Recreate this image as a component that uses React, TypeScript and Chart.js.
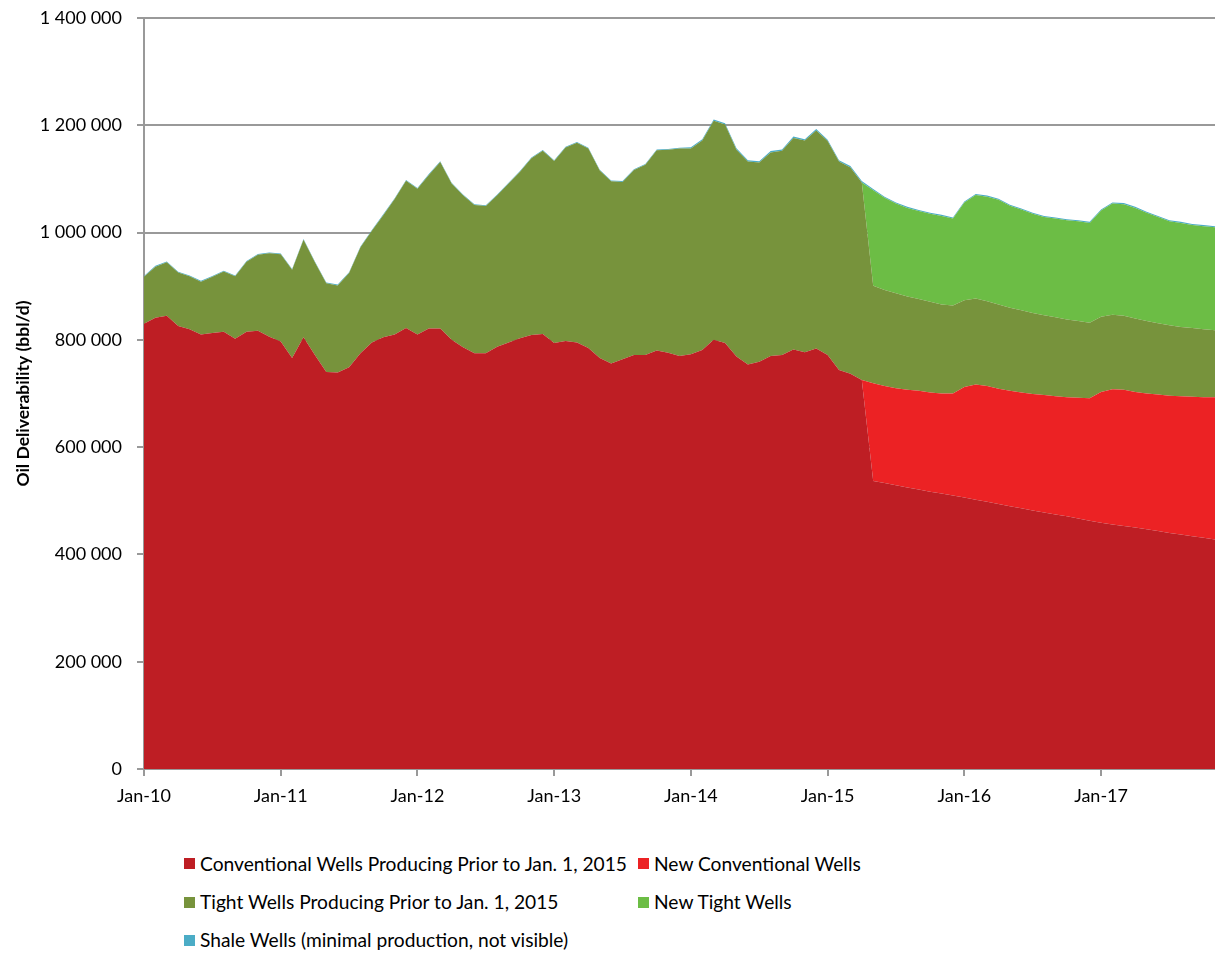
import React, { useEffect, useRef } from "react";
import { Chart, registerables } from "chart.js";

Chart.register(...registerables);

// ---- categories ----
const monthNames = ["Jan", "Feb", "Mar", "Apr", "May", "Jun", "Jul", "Aug", "Sep", "Oct", "Nov", "Dec"];
const yearSuffixes = ["10", "11", "12", "13", "14", "15", "16", "17"];
const categories: string[] = [];
for (const y of yearSuffixes) for (const m of monthNames) categories.push(`${m}-${y}`);
categories.splice(95);

const tickLabels = ["Jan-10", "Jan-11", "Jan-12", "Jan-13", "Jan-14", "Jan-15", "Jan-16", "Jan-17"];

// ---- series (bbl/d) ----
const conventionalPrior = [
  830000, 841000, 845000, 826000, 820000, 810000, 813000, 815000, 802000, 815000, 817000, 806000,
  797000, 766000, 805000, 772000, 740000, 739000, 749000, 775000, 795000, 805000, 810000, 822000,
  810000, 821000, 821000, 800000, 786000, 775000, 775000, 787000, 795000, 803000, 809000, 811000,
  794000, 798000, 795000, 785000, 766000, 756000, 764000, 772000, 772000, 780000, 776000, 770000,
  773000, 781000, 800000, 794000, 769000, 754000, 759000, 770000, 772000, 782000, 777000, 784000,
  772000, 744000, 737000, 725000, 537000, 533000, 529000, 525000, 521000, 517000, 513500, 510000,
  506000, 502000, 498000, 494000, 490000, 486000, 482000, 478000, 474500, 471000, 467000, 463000,
  459000, 456000, 453000, 450000, 447000, 443500, 440000, 437000, 434000, 431000, 428000,
];

const newConventional = [
  0, 0, 0, 0, 0, 0, 0, 0, 0, 0, 0, 0,
  0, 0, 0, 0, 0, 0, 0, 0, 0, 0, 0, 0,
  0, 0, 0, 0, 0, 0, 0, 0, 0, 0, 0, 0,
  0, 0, 0, 0, 0, 0, 0, 0, 0, 0, 0, 0,
  0, 0, 0, 0, 0, 0, 0, 0, 0, 0, 0, 0,
  0, 0, 0, 0, 182000, 181000, 181000, 182000, 184000, 185000, 186500, 190000,
  206000, 215000, 216000, 215000, 215000, 216000, 217000, 219000, 220500, 222000, 225000, 228000,
  244000, 252000, 254000, 253000, 253000, 254500, 256000, 258000, 260000, 262000, 265000,
];

const tightPrior = [
  87500, 95500, 99500, 99500, 98500, 98500, 104500, 112500, 116500, 130500, 141500, 155500,
  162500, 164500, 181500, 172500, 165500, 162500, 175500, 197500, 208500, 227500, 252500, 274500,
  271500, 286500, 310500, 291500, 283500, 276500, 274500, 282500, 296500, 310500, 329500, 341500,
  339500, 360500, 372500, 371500, 349500, 339500, 330500, 344500, 354500, 373500, 378500, 386500,
  383500, 390500, 408500, 407500, 385500, 378500, 371500, 379500, 380500, 394500, 394500, 406500,
  398500, 388500, 384500, 368500, 182000, 179000, 177000, 174000, 171000, 169000, 166000, 164000,
  162000, 160000, 158000, 157000, 155000, 153000, 151000, 149000, 147000, 145000, 143000, 141000,
  140000, 139000, 138000, 137000, 135000, 133000, 131000, 129000, 128000, 127000, 125000,
];

const newTight = [
  0, 0, 0, 0, 0, 0, 0, 0, 0, 0, 0, 0,
  0, 0, 0, 0, 0, 0, 0, 0, 0, 0, 0, 0,
  0, 0, 0, 0, 0, 0, 0, 0, 0, 0, 0, 0,
  0, 0, 0, 0, 0, 0, 0, 0, 0, 0, 0, 0,
  0, 0, 0, 0, 0, 0, 0, 0, 0, 0, 0, 0,
  0, 0, 0, 0, 178000, 172000, 167000, 165000, 164000, 164000, 165000, 162000,
  182000, 193000, 195000, 195000, 190000, 188000, 185000, 183000, 184000, 185000, 186000, 186000,
  198000, 207000, 208000, 206000, 202000, 198000, 194000, 194000, 192000, 192000, 192000,
];

const shale = [
  1500, 1500, 1500, 1500, 1500, 1500, 1500, 1500, 1500, 1500, 1500, 1500,
  1500, 1500, 1500, 1500, 1500, 1500, 1500, 1500, 1500, 1500, 1500, 1500,
  1500, 1500, 1500, 1500, 1500, 1500, 1500, 1500, 1500, 1500, 1500, 1500,
  1500, 1500, 1500, 1500, 1500, 1500, 1500, 1500, 1500, 1500, 1500, 1500,
  2500, 2500, 2500, 2500, 2500, 2500, 2500, 2500, 2500, 2500, 2500, 2500,
  2500, 2500, 2500, 2500, 2000, 2000, 2000, 2000, 2000, 2000, 2000, 2000,
  2000, 2000, 2000, 2000, 2000, 2000, 2000, 2000, 2000, 2000, 2000, 2000,
  2000, 2000, 2000, 2000, 2000, 2000, 2000, 2000, 2000, 2000, 2000,
];

const seriesNames = [
  "Conventional Wells Producing Prior to Jan. 1, 2015",
  "New Conventional Wells",
  "Tight Wells Producing Prior to Jan. 1, 2015",
  "New Tight Wells",
  "Shale Wells (minimal production, not visible)",
];
const seriesColors = ["#BE1E24", "#EC2224", "#77933C", "#6CBD45", "#4BACC6"];

const FONT = "Lato, 'Open Sans', sans-serif";
const GRID = "#999999";

function fmt(v: number): string {
  return String(v).replace(/\B(?=(\d{3})+(?!\d))/g, " ");
}

export default function App() {
  const ref = useRef<HTMLCanvasElement | null>(null);

  useEffect(() => {
    if (!ref.current) return;
    const data = [conventionalPrior, newConventional, tightPrior, newTight, shale];
    const chart = new Chart(ref.current, {
      type: "line",
      data: {
        labels: categories,
        datasets: data.map((d, i) => ({
          label: seriesNames[i],
          data: d,
          backgroundColor: seriesColors[i],
          borderColor: "rgba(0,0,0,0)",
          borderWidth: 0,
          pointRadius: 0,
          pointHoverRadius: 0,
          tension: 0,
          fill: i === 0 ? "origin" : "-1",
        })),
      },
      options: {
        responsive: false,
        animation: false,
        events: [],
        layout: { padding: { top: 18, left: 0, right: 0, bottom: 0 } },
        plugins: {
          legend: { display: false },
          tooltip: { enabled: false },
        },
        scales: {
          x: {
            z: 1,
            ticks: {
              autoSkip: false,
              maxRotation: 0,
              minRotation: 0,
              padding: 0,
              color: "#000",
              font: { family: FONT, size: 18, lineHeight: "41px" },
              callback: (_v: any, i: number) => (tickLabels.includes(categories[i]) ? categories[i] : ""),
            },
            grid: {
              drawOnChartArea: false,
              tickLength: 7,
              lineWidth: 2,
              tickColor: (ctx: any) =>
                tickLabels.includes(categories[ctx.index]) ? GRID : "rgba(0,0,0,0)",
            },
            border: { color: GRID, width: 2 },
            afterFit: (s: any) => {
              s.height = 61;
            },
          },
          y: {
            stacked: true,
            min: 0,
            max: 1400000,
            ticks: {
              stepSize: 200000,
              padding: 15,
              color: "#000",
              font: { family: FONT, size: 18, lineHeight: 0.2 },
              callback: (v: any) => fmt(Number(v)),
            },
            grid: { color: GRID, lineWidth: 2, tickLength: 7, tickColor: GRID },
            border: { color: GRID, width: 2 },
            title: {
              display: true,
              text: "Oil Deliverability (bbl/d)",
              color: "#000",
              font: { family: FONT, size: 17.5, weight: "bold" },
              padding: { top: 12.5, bottom: 0 },
            },
            afterFit: (s: any) => {
              s.width = 144;
            },
          },
        },
      },
    });
    return () => chart.destroy();
  }, []);

  const legendRows = [
    [0, 1],
    [2, 3],
    [4],
  ];
  const rowCenters = [863.5, 902, 940];
  const colX = [184, 638];

  return (
    <div
      style={{
        position: "fixed",
        left: 0,
        top: 0,
        width: 1215,
        height: 954,
        background: "#fff",
        overflow: "hidden",
      }}
    >
      <canvas ref={ref} width={1215} height={830} style={{ display: "block", width: 1215, height: 830 }} />
      {legendRows.map((row, r) =>
        row.map((si, c) => (
          <div
            key={`${r}-${c}`}
            style={{
              position: "absolute",
              left: colX[c],
              top: rowCenters[r] - 11,
              height: 22,
              display: "flex",
              alignItems: "center",
              fontFamily: FONT,
              fontSize: 19.2,
              lineHeight: "22px",
              color: "#000",
              whiteSpace: "nowrap",
            }}
          >
            <span
              style={{
                display: "inline-block",
                width: 11,
                height: 11,
                background: seriesColors[si],
                marginRight: 5,
              }}
            />
            <span>{seriesNames[si]}</span>
          </div>
        ))
      )}
    </div>
  );
}
